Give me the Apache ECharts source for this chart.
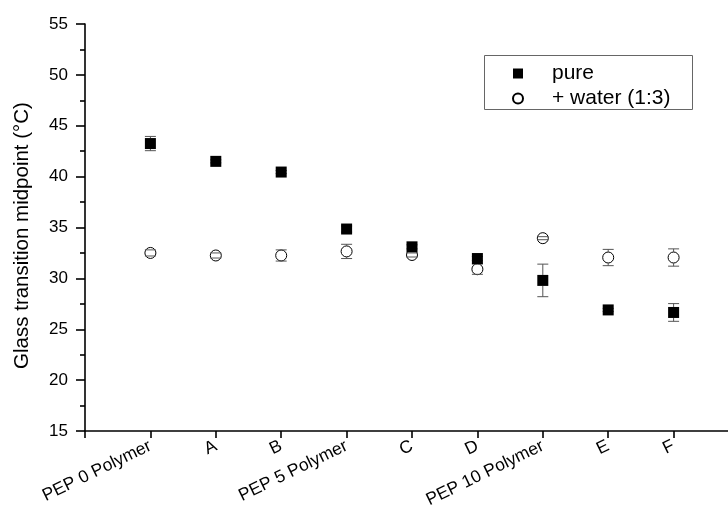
<!DOCTYPE html>
<html>
<head>
<meta charset="utf-8">
<script src="https://cdn.jsdelivr.net/npm/echarts@6/dist/echarts.min.js"></script>
<style>
  html, body { margin: 0; padding: 0; background: #fff; }
  #chart { width: 728px; height: 509px; }
</style>
</head>
<body>
<div id="chart"></div>
<script>
// Samples along the x axis (placed at positions 1..9)
const categories = ['PEP 0 Polymer', 'A', 'B', 'PEP 5 Polymer', 'C', 'D', 'PEP 10 Polymer', 'E', 'F'];

// Glass transition midpoint (°C) and standard deviations
const pureValues  = [43.25, 41.5, 40.45, 34.85, 33.1, 31.95, 29.8, 26.9, 26.65];
const pureErrors  = [0.7, 0.15, 0.15, 0.3, 0.2, 0.2, 1.6, 0.15, 0.87];
const waterValues = [32.5, 32.25, 32.25, 32.65, 32.3, 30.9, 33.95, 32.05, 32.05];
const waterErrors = [0.3, 0.25, 0.55, 0.7, 0.2, 0.5, 0.15, 0.8, 0.85];

// Y axis tick range
const yTicks = { min: 15, max: 55, step: 5 };

const FONT = '"Liberation Sans", Arial, Helvetica, sans-serif';
const MARK = 11;

function points(values) {
  return values.map((v, i) => [i + 1, v]);
}
function errPoints(values, errs) {
  return values.map((v, i) => [i + 1, v, errs[i]]);
}

// Error bar with caps; the stem stops at the marker edge so the marker stays clean
function errorBarItem(params, api) {
  const x = api.value(0), y = api.value(1), e = api.value(2);
  const c = api.coord([x, y]);
  const top = api.coord([x, y + e]);
  const bot = api.coord([x, y - e]);
  const hw = 5.5, gap = MARK / 2;
  const style = { stroke: '#555', lineWidth: 1, fill: null };
  const children = [
    { type: 'line', shape: { x1: top[0] - hw, y1: top[1], x2: top[0] + hw, y2: top[1] }, style },
    { type: 'line', shape: { x1: bot[0] - hw, y1: bot[1], x2: bot[0] + hw, y2: bot[1] }, style }
  ];
  if (c[1] - top[1] > gap) {
    children.push({ type: 'line', shape: { x1: c[0], y1: top[1], x2: c[0], y2: c[1] - gap }, style });
  }
  if (bot[1] - c[1] > gap) {
    children.push({ type: 'line', shape: { x1: c[0], y1: c[1] + gap, x2: c[0], y2: bot[1] }, style });
  }
  return { type: 'group', children };
}

const chart = echarts.init(document.getElementById('chart'));
chart.setOption({
  animation: false,
  backgroundColor: '#fff',
  textStyle: { fontFamily: FONT },
  grid: { left: 85, top: 24, right: -11, bottom: 78, containLabel: false, outerBoundsMode: 'none' },
  xAxis: {
    type: 'value',
    min: 0,
    max: categories.length + 1,
    interval: 1,
    splitLine: { show: false },
    axisLine: { onZero: false, lineStyle: { color: '#000', width: 1.6 } },
    axisTick: { length: 7, lineStyle: { color: '#000', width: 1.6 } },
    axisLabel: {
      rotate: 26,
      margin: 14,
      fontSize: 17.5,
      color: '#000',
      fontFamily: FONT,
      showMinLabel: true,
      showMaxLabel: true,
      formatter: v => (v >= 1 && v <= categories.length ? categories[v - 1] : '')
    }
  },
  yAxis: {
    type: 'value',
    min: yTicks.min,
    max: yTicks.max,
    interval: yTicks.step,
    name: 'Glass transition midpoint (°C)',
    nameLocation: 'middle',
    nameRotate: 90,
    nameGap: 52,
    nameTextStyle: { fontSize: 20.5, color: '#000', fontFamily: FONT, padding: [0, 16, 0, 0] },
    splitLine: { show: false },
    axisLine: { lineStyle: { color: '#000', width: 1.6 } },
    axisTick: { length: 9, lineStyle: { color: '#000', width: 1.6 } },
    minorTick: { show: true, splitNumber: 2, length: 5, lineStyle: { color: '#000', width: 1.6 } },
    axisLabel: { fontSize: 17, color: '#000', margin: 17, fontFamily: FONT }
  },
  graphic: [{
    type: 'rect',
    left: 484, top: 55, z: 1,
    shape: { width: 208, height: 54 },
    style: { fill: '#fff', stroke: '#666', lineWidth: 1 }
  }],
  legend: {
    orient: 'vertical',
    left: 512,
    top: 63,
    z: 5,
    itemWidth: 10,
    itemHeight: 10,
    itemGap: 4,
    padding: 0,
    textStyle: { fontSize: 21, color: '#000', fontFamily: FONT, padding: [0, 0, 0, 24] },
    data: [
      { name: 'pure', icon: 'rect' },
      { name: '+ water (1:3)', icon: 'circle' }
    ]
  },
  series: [
    {
      name: '+ water (1:3)',
      type: 'scatter',
      symbol: 'circle',
      symbolSize: MARK,
      itemStyle: { color: '#fff', borderColor: '#000', borderWidth: 1, opacity: 1 },
      data: points(waterValues),
      z: 2
    },
    {
      name: 'water-err',
      type: 'custom',
      renderItem: errorBarItem,
      data: errPoints(waterValues, waterErrors),
      z: 3,
      silent: true
    },
    {
      name: 'pure-err',
      type: 'custom',
      renderItem: errorBarItem,
      data: errPoints(pureValues, pureErrors),
      z: 4,
      silent: true
    },
    {
      name: 'pure',
      type: 'scatter',
      symbol: 'rect',
      symbolSize: MARK,
      itemStyle: { color: '#000', opacity: 1 },
      data: points(pureValues),
      z: 5
    }
  ]
});
</script>
</body>
</html>
